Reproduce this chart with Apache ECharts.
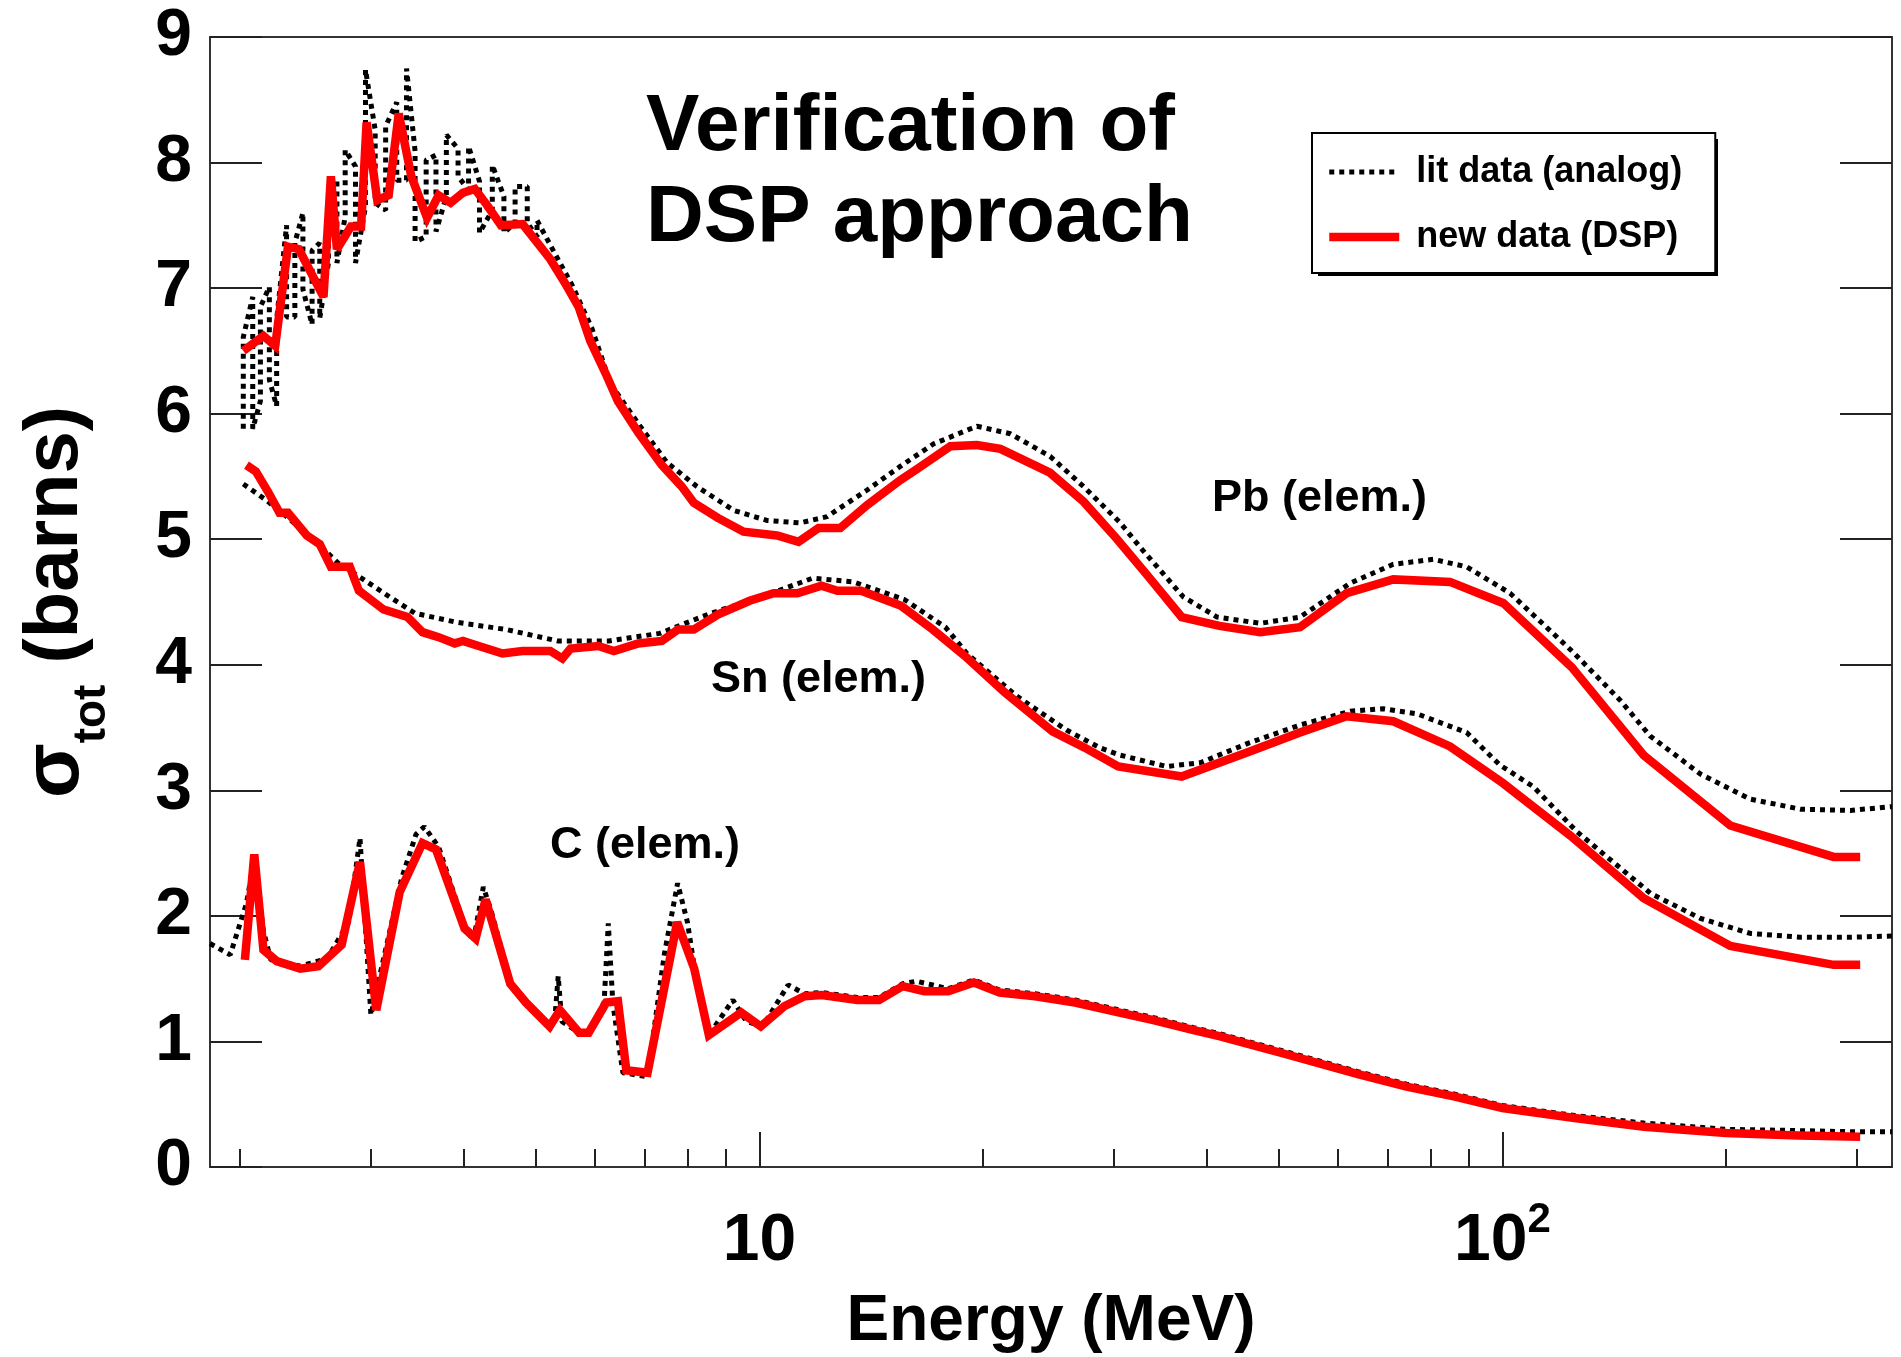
<!DOCTYPE html>
<html><head><meta charset="utf-8">
<script src="https://cdn.jsdelivr.net/npm/echarts@6/dist/echarts.min.js"></script>
<style>html,body{margin:0;padding:0;background:#fff}#c{width:1901px;height:1357px}</style>
</head><body><div id="c"></div>
<script>
const FONT = '"Liberation Sans", Arial, Helvetica, sans-serif';

// Energy range of the plot (MeV) and tick positions
const xRange = [1.822, 334.4];
const xMajorTicks = [10, 100];
const xMinorTicks = [2, 3, 4, 5, 6, 7, 8, 9, 20, 30, 40, 50, 60, 70, 80, 90, 200, 300];
const yRange = [0, 9];

// Pb (elem.) - new data (DSP)
const pbDspE = [2.02,2.15,2.23,2.32,2.40,2.59,2.65,2.70,2.82,2.91,2.96,3.06,3.17,3.27,3.40,3.57,3.70,3.84,3.99,4.14,4.30,4.49,4.80,4.98,5.23,5.50,5.71,5.92,6.22,6.45,6.87,7.39,7.86,8.16,8.79,9.52,10.56,11.29,12.01,12.85,13.95,15.47,16.30,18.07,19.62,21.1,24.6,27.3,30.3,33.3,37.0,41.6,47.2,53.4,61.7,71.3,85.0,100.3,124,154.9,202.6,279,303];
const pbDspS = [6.50,6.62,6.54,7.33,7.31,6.93,7.89,7.31,7.49,7.49,8.32,7.70,7.74,8.39,7.89,7.56,7.74,7.68,7.76,7.79,7.66,7.50,7.51,7.39,7.23,7.02,6.85,6.58,6.31,6.10,5.85,5.59,5.42,5.29,5.17,5.06,5.03,4.98,5.09,5.09,5.27,5.47,5.56,5.74,5.75,5.72,5.53,5.30,5.00,4.71,4.38,4.31,4.26,4.30,4.57,4.68,4.66,4.49,3.98,3.28,2.72,2.47,2.47];

// Pb (elem.) - lit data (analog)
const pbLitE = [2.02,2.02,2.08,2.08,2.13,2.13,2.19,2.19,2.24,2.24,2.31,2.31,2.37,2.37,2.43,2.43,2.50,2.50,2.56,2.56,2.63,2.63,2.70,2.70,2.77,2.77,2.86,2.86,2.95,2.95,3.04,3.04,3.14,3.14,3.25,3.25,3.35,3.35,3.44,3.44,3.56,3.56,3.67,3.67,3.79,3.79,3.93,3.93,4.06,4.06,4.20,4.20,4.37,4.37,4.53,4.53,4.69,4.69,4.87,4.87,5.02,5.02,
  5.30,5.60,5.95,6.30,6.91,7.51,8.24,9.23,10.23,11.35,12.33,13.95,15.47,17.16,19.62,21.76,24.62,27.3,30.6,32.5,37.2,41.3,47.2,53.4,62.4,71.3,80.7,89.5,102.4,124,143.9,158.2,184.7,215.6,251.7,293.9,334.4];
const pbLitS = [5.88,6.61,6.93,5.88,6.10,6.85,7.01,6.27,6.06,6.75,7.50,6.77,6.77,7.36,7.60,6.99,6.71,7.30,7.36,6.76,7.20,7.76,7.85,7.20,7.57,8.10,7.97,7.20,7.65,8.74,8.26,7.68,7.62,8.29,8.48,7.86,7.86,8.75,8.09,7.37,7.41,8.02,8.06,7.45,7.73,8.22,8.11,7.89,7.78,8.13,7.85,7.44,7.62,7.98,7.73,7.44,7.52,7.81,7.81,7.52,7.41,7.54,
  7.28,7.02,6.68,6.24,5.90,5.61,5.42,5.23,5.15,5.13,5.18,5.39,5.58,5.76,5.90,5.84,5.66,5.42,5.13,4.94,4.54,4.38,4.33,4.38,4.65,4.80,4.84,4.78,4.57,4.11,3.72,3.43,3.13,2.93,2.85,2.84,2.87];

// Sn (elem.) - new data (DSP)
const snDspE = [2.04,2.10,2.18,2.26,2.32,2.46,2.56,2.65,2.81,2.89,3.12,3.36,3.52,3.70,3.89,3.99,4.19,4.51,4.80,5.23,5.43,5.57,6.07,6.37,6.87,7.39,7.77,8.16,8.79,9.70,10.45,11.25,12.12,12.73,13.70,15.51,17.12,18.90,21.38,24.8,27.4,30.4,37.0,45.7,53.4,61.7,71.3,85.0,100,123.4,154.9,202.6,279,303];
const snDspS = [5.59,5.54,5.38,5.21,5.21,5.03,4.96,4.78,4.78,4.59,4.44,4.38,4.26,4.22,4.17,4.19,4.15,4.09,4.11,4.11,4.05,4.13,4.15,4.11,4.17,4.19,4.28,4.28,4.40,4.51,4.57,4.57,4.63,4.59,4.59,4.47,4.28,4.07,3.78,3.47,3.34,3.19,3.11,3.31,3.46,3.59,3.55,3.35,3.06,2.64,2.14,1.76,1.61,1.61];

// Sn (elem.) - lit data (analog)
const snLitE = [2.02,2.17,2.31,2.54,2.71,2.93,3.18,3.44,3.90,4.57,5.35,6.27,7.34,8.60,10.07,11.79,13.38,15.67,17.79,19.02,22.2,25.9,28.7,30.6,35.3,39.2,45.7,53.4,62.4,69.1,76.7,89.5,99.3,110,126,158.2,184.7,215.6,251.7,293.9,334.4];
const snLitS = [5.44,5.31,5.18,4.97,4.81,4.68,4.54,4.41,4.34,4.28,4.19,4.19,4.25,4.41,4.54,4.69,4.66,4.52,4.30,4.09,3.75,3.48,3.34,3.28,3.19,3.22,3.38,3.52,3.63,3.65,3.61,3.46,3.20,3.03,2.67,2.18,1.98,1.86,1.83,1.83,1.84];

// C (elem.) - new data (DSP)
const cDspE = [2.03,2.09,2.15,2.24,2.41,2.55,2.74,2.90,3.05,3.28,3.52,3.67,4.01,4.15,4.28,4.62,4.85,5.22,5.39,5.72,5.89,6.22,6.45,6.62,7.07,7.75,8.17,8.55,9.45,10.04,10.8,11.5,12.13,13.54,14.49,15.59,16.67,17.95,19.44,21.05,23.5,26.6,30.0,33.9,38.4,41.7,51.0,63.9,74.3,86.3,100,125,155,200,250,303];
const cDspS = [1.65,2.49,1.73,1.64,1.58,1.60,1.77,2.43,1.25,2.19,2.58,2.53,1.90,1.82,2.13,1.46,1.31,1.12,1.25,1.07,1.07,1.31,1.32,0.77,0.75,1.95,1.58,1.05,1.23,1.12,1.28,1.36,1.37,1.33,1.33,1.44,1.40,1.40,1.47,1.39,1.36,1.31,1.24,1.17,1.09,1.04,0.90,0.74,0.64,0.56,0.47,0.39,0.32,0.27,0.25,0.24];

// C (elem.) - lit data (analog)
const cLitE = [1.822,1.94,2.00,2.04,2.09,2.15,2.20,2.41,2.62,2.80,2.90,3.00,3.30,3.45,3.54,3.70,4.01,4.12,4.25,4.35,4.62,4.85,5.22,5.30,5.36,5.42,5.72,5.89,6.18,6.26,6.35,6.55,7.07,7.45,7.76,8.00,8.17,8.55,9.21,9.6,10.1,10.93,11.5,12.13,13.54,14.49,15.59,16.27,17.95,19.44,21.05,23.5,26.6,30.0,33.9,38.4,41.7,51.0,63.9,74.3,86.3,100,125,155,200,250,300,334.4];
const cLitS = [1.78,1.69,1.94,2.10,2.45,1.88,1.65,1.60,1.66,1.95,2.62,1.21,2.30,2.65,2.71,2.55,1.92,1.80,2.23,2.05,1.48,1.32,1.12,1.15,1.52,1.16,1.07,1.08,1.31,1.94,1.30,0.75,0.72,1.70,2.26,1.95,1.60,1.05,1.33,1.16,1.12,1.45,1.38,1.39,1.35,1.35,1.46,1.48,1.42,1.49,1.41,1.38,1.33,1.26,1.19,1.11,1.06,0.92,0.76,0.66,0.58,0.49,0.41,0.35,0.30,0.29,0.28,0.28];

const LIT = 'lit data (analog)';
const DSP = 'new data (DSP)';

const lg = v => Math.log10(v);
const pts = (E, S) => E.map((e, i) => [lg(e), S[i]]);

const litStyle = { color: '#000', width: 5, type: [5, 5], cap: 'butt' };
const dspStyle = { color: '#ff0000', width: 8.5, join: 'miter', miterLimit: 3 };

function line(name, E, S, style, z) {
  return { type: 'line', name, data: pts(E, S), xAxisIndex: 0, yAxisIndex: 0,
    showSymbol: false, symbol: 'none', lineStyle: style, itemStyle: { color: style.color },
    z, silent: true, animation: false, clip: true };
}

const tickStyle = { color: '#222', width: 2 };
const xMin = lg(xRange[0]), xMax = lg(xRange[1]);

const chart = echarts.init(document.getElementById('c'), null, { renderer: 'canvas' });
chart.setOption({
  backgroundColor: '#fff',
  animation: false,
  textStyle: { fontFamily: FONT },
  grid: { left: 210, top: 37, width: 1682, height: 1130, show: true, borderColor: '#333', borderWidth: 2,
    backgroundColor: 'transparent', containLabel: false, outerBoundsMode: 'none' },
  title: {
    text: 'Verification of\nDSP approach', left: 646, top: 82, padding: 0,
    textStyle: { fontFamily: FONT, fontSize: 80, fontWeight: 'bold', color: '#000', lineHeight: 91 }
  },
  legend: {
    data: [LIT, DSP], orient: 'vertical', left: 1312, top: 133, z: 10,
    padding: [19, 33, 16, 13], itemGap: 25, itemWidth: 70, itemHeight: 10,
    backgroundColor: '#fff', borderColor: '#000', borderWidth: 2, borderRadius: 0,
    itemStyle: { color: 'rgba(0,0,0,0)', borderColor: 'rgba(0,0,0,0)', borderWidth: 0 },
    lineStyle: { width: 'inherit', type: 'inherit', color: 'inherit' },
    textStyle: { fontFamily: FONT, fontSize: 36, fontWeight: 'bold', color: '#000', lineHeight: 40, padding: [0, 0, 0, 12] },
    selectedMode: false
  },
  xAxis: [
    {
      type: 'value', min: xMin, max: xMax, position: 'bottom',
      axisLine: { show: false }, splitLine: { show: false },
      axisTick: { show: true, inside: true, length: 35, customValues: xMajorTicks.map(lg), lineStyle: tickStyle },
      axisLabel: {
        show: true, margin: 42, customValues: xMajorTicks.map(lg),
        formatter: v => {
          const p = Math.round(v);
          return p === 1 ? '{m|10}' : '{m|10}{s|' + p + '}';
        },
        rich: {
          m: { fontFamily: FONT, fontSize: 66, fontWeight: 'bold', color: '#000', lineHeight: 66 },
          s: { fontFamily: FONT, fontSize: 42, fontWeight: 'bold', color: '#000', lineHeight: 20, padding: [0, 0, 44, 0] }
        }
      },
      name: 'Energy (MeV)', nameLocation: 'middle', nameGap: 116,
      nameTextStyle: { fontFamily: FONT, fontSize: 64, fontWeight: 'bold', color: '#000', lineHeight: 64 }
    },
    {
      type: 'value', min: xMin, max: xMax, position: 'bottom',
      axisLine: { show: false }, splitLine: { show: false }, axisLabel: { show: false },
      axisTick: { show: true, inside: true, length: 18, customValues: xMinorTicks.map(lg), lineStyle: tickStyle }
    }
  ],
  yAxis: [
    {
      type: 'value', min: yRange[0], max: yRange[1], interval: 1, position: 'left',
      axisLine: { show: false }, splitLine: { show: false },
      axisTick: { show: true, inside: true, length: 52, lineStyle: tickStyle },
      axisLabel: { margin: 18, fontFamily: FONT, fontSize: 66, fontWeight: 'bold', color: '#000' },
      name: '{g|σ}{sub|tot}{n| (barns)}', nameLocation: 'middle', nameGap: 116,
      nameTextStyle: {
        fontFamily: FONT, color: '#000',
        rich: {
          g: { fontFamily: FONT, fontSize: 80, fontWeight: 'bold', color: '#000', lineHeight: 76 },
          sub: { fontFamily: FONT, fontSize: 46, fontWeight: 'bold', color: '#000', lineHeight: 46, padding: [72, 0, 0, 0] },
          n: { fontFamily: FONT, fontSize: 76, fontWeight: 'bold', color: '#000', lineHeight: 76 }
        }
      }
    },
    {
      type: 'value', min: yRange[0], max: yRange[1], interval: 1, position: 'right',
      axisLine: { show: false }, splitLine: { show: false }, axisLabel: { show: false },
      axisTick: { show: true, inside: true, length: 52, lineStyle: tickStyle }
    }
  ],
  graphic: [
    { type: 'rect', z: 1, silent: true, shape: { x: 1318, y: 139, width: 400, height: 137 }, style: { fill: '#000' } },
    { type: 'text', left: 1212, top: 476, silent: true, style: { text: 'Pb (elem.)', font: 'bold 45px ' + FONT, fill: '#000' } },
    { type: 'text', left: 711, top: 657, silent: true, style: { text: 'Sn (elem.)', font: 'bold 45px ' + FONT, fill: '#000' } },
    { type: 'text', left: 550, top: 823, silent: true, style: { text: 'C (elem.)', font: 'bold 45px ' + FONT, fill: '#000' } }
  ],
  series: [
    line(LIT, pbLitE, pbLitS, litStyle, 2),
    line(LIT, snLitE, snLitS, litStyle, 2),
    line(LIT, cLitE, cLitS, litStyle, 2),
    line(DSP, pbDspE, pbDspS, dspStyle, 3),
    line(DSP, snDspE, snDspS, dspStyle, 3),
    line(DSP, cDspE, cDspS, dspStyle, 3)
  ]
});
</script>
</body></html>
